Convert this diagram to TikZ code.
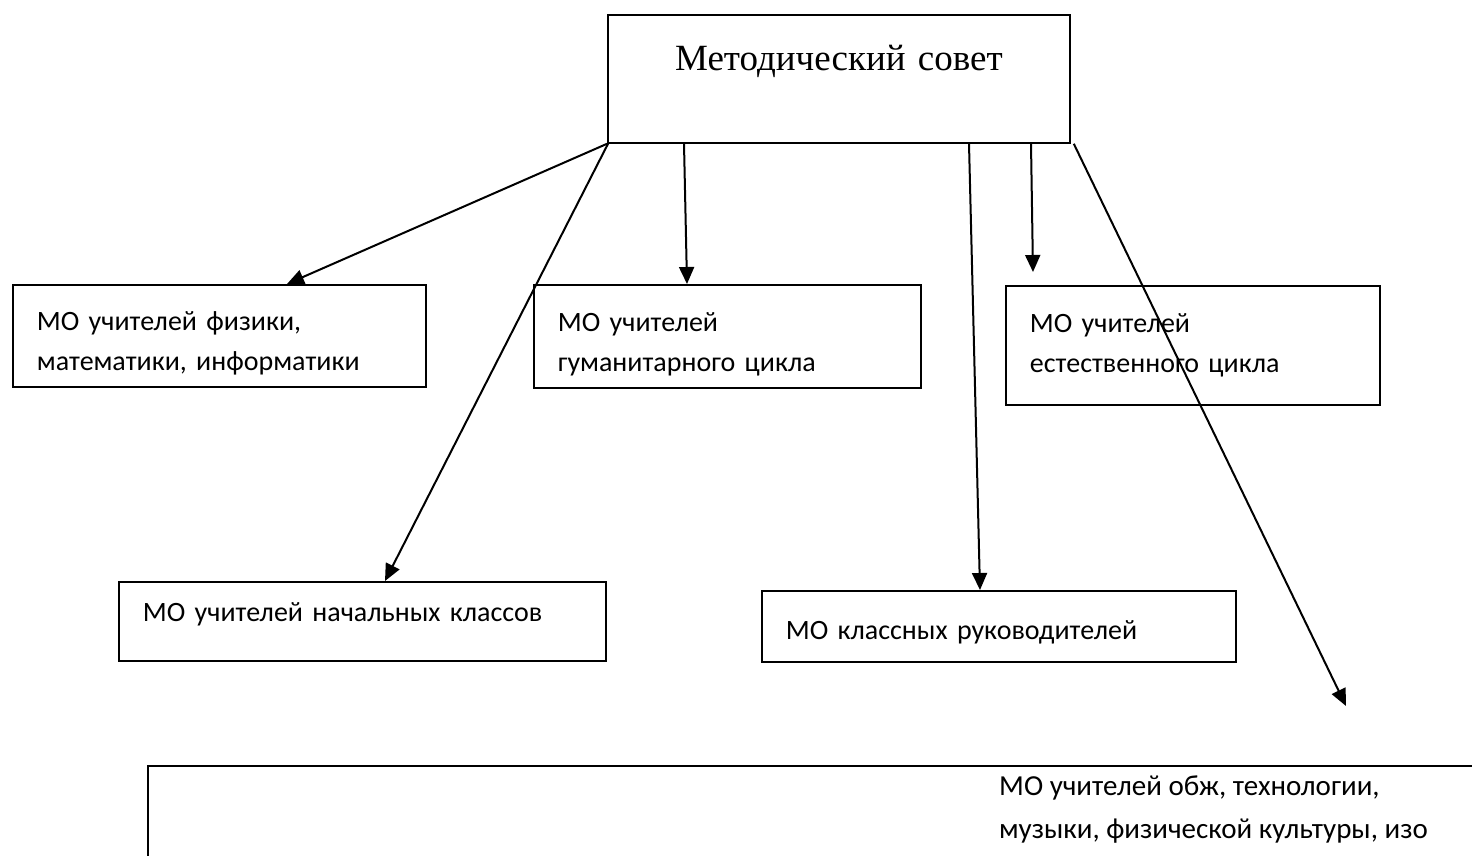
\documentclass[tikz,border=0pt]{standalone}
\usepackage{fontspec}
\setmainfont{Liberation Serif}
\newfontfamily\calibri{Carlito}
\usetikzlibrary{arrows.meta}
\tikzset{
  mobox/.style = {draw, line width=1.8pt, anchor=north west, align=left,
    inner xsep=24pt, inner ysep=0pt,
    font=\calibri\fontsize{28}{40}\selectfont},
  link/.style = {line width=2pt, -{Triangle[length=17pt, width=15pt]}}
}
\begin{document}
\begin{tikzpicture}[x=1pt, y=-1pt]
\useasboundingbox (0, 0) rectangle (1472, 856);
% head box
\node [draw, line width=1.8pt, anchor=north west, inner sep=0pt,
  text width=462pt, align=center, text height=56pt, text depth=72pt,
  font=\fontsize{37}{40}\selectfont] (sovet) at (607, 14) {Методический совет};
% the MO boxes
\node [mobox, text width=365pt, minimum height=102pt] (phys) at (12, 284)
  {\rule{0pt}{34pt}МО учителей физики,\\математики, информатики};
\node [mobox, text width=339pt, minimum height=103pt] (hum) at (533, 284)
  {\rule{0pt}{34pt}МО учителей\\гуманитарного цикла};
\node [mobox, text width=326pt, minimum height=119pt] (nat) at (1005, 285)
  {МО учителей\\естественного цикла};
\node [mobox, text width=439pt, minimum height=79pt] (nach) at (118, 581)
  {\rule[-19pt]{0pt}{0pt}МО учителей начальных классов};
\node [mobox, text width=426pt, minimum height=71pt] (cls) at (761, 590)
  {\rule{0pt}{31pt}МО классных руководителей};
% bottom box, runs off the page
\draw [line width=1.8pt] (148, 900) |- (1500, 766);
\node [anchor=base west, inner sep=0pt, font=\calibri\fontsize{29}{43}\selectfont]
  (muz) at (999, 795) {\begin{tabular}[t]{@{}l@{}}
  МО учителей обж, технологии,\\музыки, физической культуры, изо\end{tabular}};
% free ends
\coordinate (natend) at (1033, 272);
\coordinate (muzend) at (1346, 706);
% arrows
\draw [link] (sovet.south west) -- ([xshift=275pt]phys.north west);
\draw [link] ([xshift=1pt]sovet.south west) -- ([xshift=267pt]nach.north west);
\draw [link] ([xshift=77pt]sovet.south west) -- ([xshift=154pt]hum.north west);
\draw [link] ([xshift=362pt]sovet.south west) -- ([xshift=219pt]cls.north west);
\draw [link] ([xshift=424pt]sovet.south west) -- (natend);
\draw [link] ([xshift=3pt]sovet.south east) -- (muzend);
\end{tikzpicture}
\end{document}
